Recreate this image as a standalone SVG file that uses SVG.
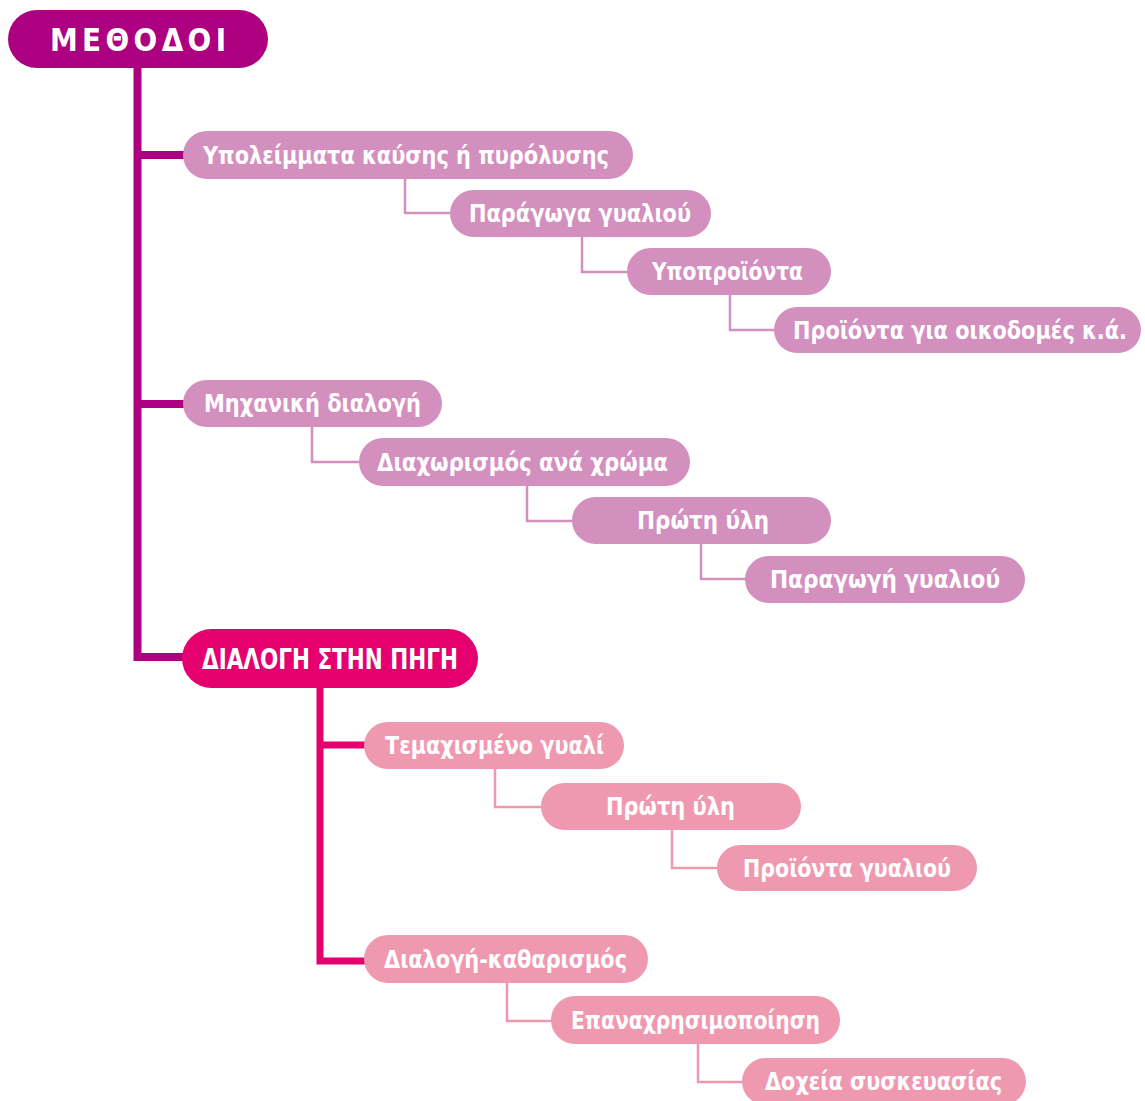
<svg xmlns="http://www.w3.org/2000/svg" width="1145" height="1101" viewBox="0 0 1145 1101">
<style>
text{font-family:"DejaVu Sans Condensed","DejaVu Sans","Liberation Sans",sans-serif;font-stretch:condensed;font-weight:bold;fill:#fff;}
.t{font-size:25px;}
.root{fill:#AD0080;}
.n1{fill:#D390BF;}
.n2{fill:#E4006F;}
.n3{fill:#EF99B1;}
.trunk1{fill:none;stroke:#AD0080;stroke-width:8;}
.trunk2{fill:none;stroke:#E4006F;stroke-width:7;}
.thin1{fill:none;stroke:#D390BF;stroke-width:2.5;}
.thin2{fill:none;stroke:#EF99B1;stroke-width:2.5;}
</style>
<rect width="1145" height="1101" fill="#fff"/>
<g id="connectors">
<path class="trunk1" d="M137.5 68 V657 H186"/>
<path class="trunk1" d="M137.5 155 H186"/>
<path class="trunk1" d="M137.5 404 H186"/>
<path class="trunk2" d="M320 688 V961 H367"/>
<path class="trunk2" d="M320 745 H367"/>
<path class="thin1" d="M405 179 V213 H452"/>
<path class="thin1" d="M582 237 V272 H629"/>
<path class="thin1" d="M730 295 V330 H776"/>
<path class="thin1" d="M312 427 V462 H361"/>
<path class="thin1" d="M527 486 V521 H574"/>
<path class="thin1" d="M701 544 V579 H747"/>
<path class="thin2" d="M495 769 V807 H543"/>
<path class="thin2" d="M672 830 V868 H719"/>
<path class="thin2" d="M507 983 V1021 H553"/>
<path class="thin2" d="M698 1044 V1082 H744"/>
</g>
<g id="root">
<rect class="root" x="8" y="10" width="260" height="58" rx="29"/>
<text x="50" y="51" font-size="31" textLength="188" lengthAdjust="spacing" letter-spacing="12">ΜΕΘΟΔΟΙ</text>
</g>
<g id="n-ypoleimmata">
<rect class="n1" x="183" y="131" width="450" height="48" rx="24"/>
<text class="t" x="203" y="163.5" textLength="406" lengthAdjust="spacingAndGlyphs">Υπολείμματα καύσης ή πυρόλυσης</text>
</g>
<g id="n-paragoga">
<rect class="n1" x="450" y="190" width="261" height="47" rx="23.5"/>
<text class="t" x="469" y="222" textLength="222" lengthAdjust="spacingAndGlyphs">Παράγωγα γυαλιού</text>
</g>
<g id="n-ypoproionta">
<rect class="n1" x="627" y="248" width="204" height="47" rx="23.5"/>
<text class="t" x="652" y="280" textLength="151" lengthAdjust="spacingAndGlyphs">Υποπροϊόντα</text>
</g>
<g id="n-oikodomes">
<rect class="n1" x="774" y="307" width="367" height="46" rx="23"/>
<text x="793" y="339" font-size="24.5" textLength="334" lengthAdjust="spacingAndGlyphs">Προϊόντα για οικοδομές κ.ά.</text>
</g>
<g id="n-mixaniki">
<rect class="n1" x="183" y="380" width="259" height="47" rx="23.5"/>
<text class="t" x="204" y="412" textLength="217" lengthAdjust="spacingAndGlyphs">Μηχανική διαλογή</text>
</g>
<g id="n-diaxorismos">
<rect class="n1" x="359" y="438" width="331" height="48" rx="24"/>
<text class="t" x="377" y="470.5" textLength="291" lengthAdjust="spacingAndGlyphs">Διαχωρισμός ανά χρώμα</text>
</g>
<g id="n-proti-yli-1">
<rect class="n1" x="572" y="497" width="259" height="47" rx="23.5"/>
<text class="t" x="637" y="529" textLength="132" lengthAdjust="spacingAndGlyphs">Πρώτη ύλη</text>
</g>
<g id="n-paragogi">
<rect class="n1" x="745" y="556" width="280" height="47" rx="23.5"/>
<text class="t" x="770" y="588" textLength="230" lengthAdjust="spacingAndGlyphs">Παραγωγή γυαλιού</text>
</g>
<g id="n-dialogi-pigi">
<rect class="n2" x="182" y="629" width="296" height="59" rx="29.5"/>
<text x="202" y="669" font-size="28" textLength="256" lengthAdjust="spacingAndGlyphs">ΔΙΑΛΟΓΗ ΣΤΗΝ ΠΗΓΗ</text>
</g>
<g id="n-temaxismeno">
<rect class="n3" x="364" y="722" width="260" height="47" rx="23.5"/>
<text class="t" x="385" y="754" textLength="219" lengthAdjust="spacingAndGlyphs">Τεμαχισμένο γυαλί</text>
</g>
<g id="n-proti-yli-2">
<rect class="n3" x="541" y="783" width="260" height="47" rx="23.5"/>
<text class="t" x="606" y="815" textLength="129" lengthAdjust="spacingAndGlyphs">Πρώτη ύλη</text>
</g>
<g id="n-proionta-gyaliou">
<rect class="n3" x="717" y="845" width="260" height="46" rx="23"/>
<text class="t" x="743" y="877" textLength="208" lengthAdjust="spacingAndGlyphs">Προϊόντα γυαλιού</text>
</g>
<g id="n-dialogi-katharismos">
<rect class="n3" x="364" y="935" width="284" height="48" rx="24"/>
<text class="t" x="384" y="967.5" textLength="243" lengthAdjust="spacingAndGlyphs">Διαλογή-καθαρισμός</text>
</g>
<g id="n-epanaxrisimopoiisi">
<rect class="n3" x="551" y="996" width="289" height="48" rx="24"/>
<text class="t" x="571" y="1028.5" textLength="249" lengthAdjust="spacingAndGlyphs">Επαναχρησιμοποίηση</text>
</g>
<g id="n-doxeia">
<rect class="n3" x="742" y="1058" width="284" height="47" rx="23.5"/>
<text class="t" x="765" y="1090" textLength="237" lengthAdjust="spacingAndGlyphs">Δοχεία συσκευασίας</text>
</g>
</svg>
